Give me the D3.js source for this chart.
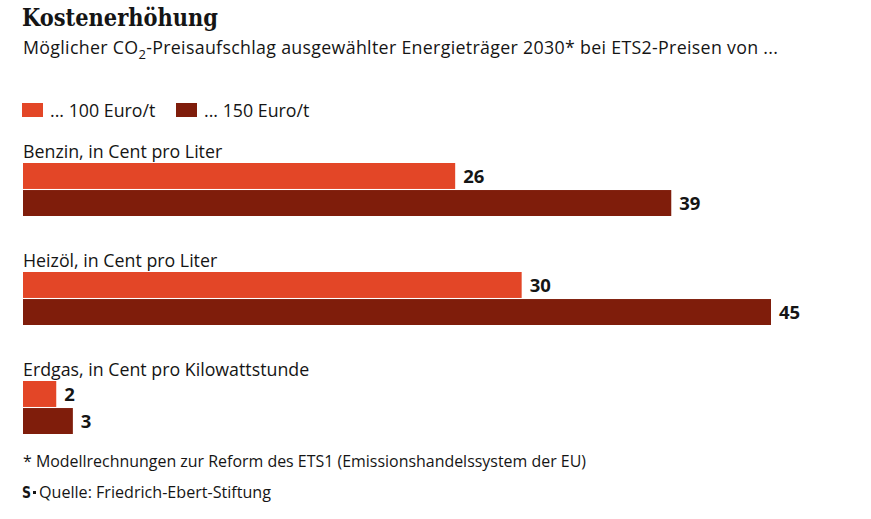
<!DOCTYPE html>
<html lang="de"><head><meta charset="UTF-8">
<title>Kostenerhöhung</title>
<script src="https://d3js.org/d3.v7.min.js"></script>
<style>
  body { margin: 0; background: #fff; }
  text { font-family: "Open Sans", Roboto, sans-serif; fill: #151515; }
</style>
</head>
<body>
<script>
// data
var categories = ["Benzin, in Cent pro Liter", "Heizöl, in Cent pro Liter", "Erdgas, in Cent pro Kilowattstunde"];
var seriesNames = ["... 100 Euro/t", "... 150 Euro/t"];
var values100 = [26, 30, 2];
var values150 = [39, 45, 3];
var colors = ["#e34627", "#7f1d0b"];

var w = 871, h = 519;

var svg = d3.select("body").append("svg")
  .attr("width", w)
  .attr("height", h);

// title + subtitle
svg.append("text")
  .attr("x", 22).attr("y", 26)
  .style("font-family", "'DejaVu Serif', serif")
  .style("font-stretch", "condensed")
  .attr("font-weight", "bold")
  .attr("font-size", 24)
  .attr("textLength", 196)
  .attr("lengthAdjust", "spacingAndGlyphs")
  .text("Kostenerhöhung");

var sub = svg.append("text")
  .attr("x", 23).attr("y", 54)
  .attr("font-size", 17.8)
  .attr("textLength", 755)
  .attr("lengthAdjust", "spacing");
sub.append("tspan").text("Möglicher CO");
sub.append("tspan").attr("dy", 5).attr("font-size", 13).text("2");
sub.append("tspan").attr("dy", -5).text("-Preisaufschlag ausgewählter Energieträger 2030* bei ETS2-Preisen von ...");

// legend
var legend = svg.selectAll("g.leg")
  .data(seriesNames)
  .enter().append("g")
  .attr("class", "leg")
  .attr("transform", function(d, i) { return "translate(" + (22 + i * 154) + ",103)"; });
legend.append("rect")
  .attr("width", 21).attr("height", 14)
  .attr("fill", function(d, i) { return colors[i]; });
legend.append("text")
  .attr("x", 28).attr("y", 14)
  .attr("font-size", 17.8)
  .text(function(d) { return d; });

// scales
var xScale = d3.scaleLinear()
  .domain([0, 45])
  .range([23, 771]);

var yGroup = d3.scaleBand()
  .domain(categories)
  .range([163, 163 + 3 * 109]);

var ySeries = d3.scaleBand()
  .domain([0, 1])
  .range([0, 53])
  .paddingInner(0.04);

var rows = categories.map(function(c, i) {
  return { cat: c, vals: [values100[i], values150[i]] };
});

var groups = svg.selectAll("g.group")
  .data(rows)
  .enter().append("g")
  .attr("class", "group")
  .attr("transform", function(d) { return "translate(0," + yGroup(d.cat) + ")"; });

groups.append("text")
  .attr("x", 23).attr("y", -5)
  .attr("font-size", 17.8)
  .text(function(d) { return d.cat; });

groups.selectAll("rect")
  .data(function(d) { return d.vals; })
  .enter().append("rect")
  .attr("x", xScale(0))
  .attr("y", function(d, i) { return ySeries(i); })
  .attr("width", function(d) { return xScale(d) - xScale(0); })
  .attr("height", ySeries.bandwidth())
  .attr("fill", function(d, i) { return colors[i]; });

groups.selectAll("text.val")
  .data(function(d) { return d.vals; })
  .enter().append("text")
  .attr("class", "val")
  .attr("x", function(d) { return xScale(d) + 8; })
  .attr("y", function(d, i) { return ySeries(i) + ySeries.bandwidth() / 2; })
  .attr("dy", "0.36em")
  .attr("font-size", 18.5)
  .attr("font-weight", "bold")
  .text(function(d) { return d; });

// footnote + source
svg.append("text")
  .attr("x", 23).attr("y", 467)
  .attr("font-size", 16)
  .attr("textLength", 563)
  .attr("lengthAdjust", "spacingAndGlyphs")
  .text("* Modellrechnungen zur Reform des ETS1 (Emissionshandelssystem der EU)");

svg.append("text")
  .attr("x", 22).attr("y", 498)
  .style("font-family", "'DejaVu Sans', sans-serif")
  .attr("font-weight", "bold")
  .attr("font-size", 16)
  .attr("textLength", 9)
  .attr("lengthAdjust", "spacingAndGlyphs")
  .text("S");
svg.append("rect")
  .attr("x", 33).attr("y", 491)
  .attr("width", 3).attr("height", 3)
  .attr("fill", "#151515");
svg.append("text")
  .attr("x", 39).attr("y", 498)
  .attr("font-size", 16)
  .attr("textLength", 232)
  .attr("lengthAdjust", "spacingAndGlyphs")
  .text("Quelle: Friedrich-Ebert-Stiftung");
</script>
</body>
</html>
